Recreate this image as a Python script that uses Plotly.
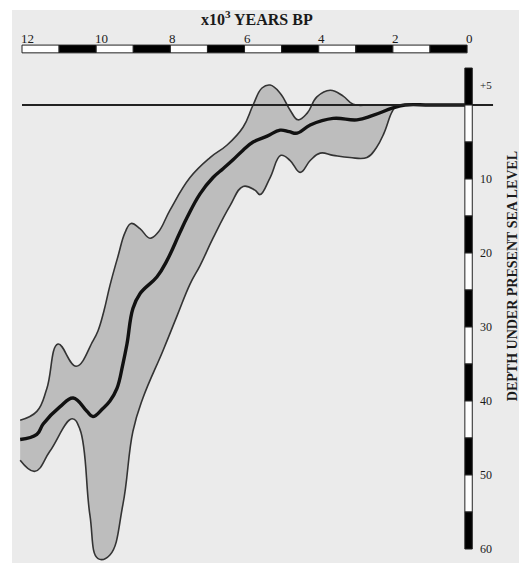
import plotly.graph_objects as go

# ---- data (x in thousands of years BP, depth in m below present sea level) ----
mean_years = [12.05, 11.6, 11.43, 10.98, 10.62, 10.25, 10.09, 9.82, 9.63, 9.44, 9.28, 9.17,
              9.01, 8.82, 8.36, 8.09, 7.74, 7.55, 7.2, 6.85, 6.58, 6.31, 6.04, 5.77, 5.39,
              5.04, 4.8, 4.58, 4.23, 3.61, 2.97, 2.54, 2.0, 1.67, 1.0, 0.0]
mean_depth = [45.2, 44.5, 43.1, 40.8, 39.6, 41.4, 42.1, 41.0, 40.0, 38.3, 35.0, 32.3,
              27.5, 25.5, 23.2, 21.0, 17.2, 15.2, 12.0, 9.8, 8.6, 7.4, 6.1, 5.0, 4.2,
              3.4, 3.6, 3.8, 2.7, 1.8, 2.0, 1.4, 0.4, 0.0, 0.0, 0.0]

upper_years = [12.05, 11.6, 11.33, 11.03, 10.54, 10.09, 9.95, 9.79, 9.63, 9.41, 9.22, 9.06,
               8.82, 8.55, 8.33, 8.01, 7.47, 6.93, 6.47, 6.04, 5.77, 5.53, 5.31, 5.04,
               4.77, 4.56, 4.31, 4.05, 3.69, 3.34, 3.07, 2.6, 1.5, 0.0]
upper_depth = [42.6, 41.4, 38.3, 32.3, 35.3, 31.9, 30.5, 27.8, 24.4, 20.4, 17.2, 16.0,
               16.7, 18.0, 17.2, 14.2, 9.8, 7.1, 5.4, 3.0, 0.0, -2.3, -2.7, -1.6,
               0.7, 2.0, 1.1, -1.1, -2.0, -1.2, -0.1, 0.0, 0.0, 0.0]

lower_years = [12.05, 11.65, 11.25, 10.65, 10.44, 10.17, 9.95, 9.63, 9.28, 9.01, 8.74, 8.2,
               7.82, 7.47, 7.2, 6.85, 6.39, 6.04, 5.72, 5.58, 5.31, 5.02, 4.77, 4.5,
               4.23, 3.96, 3.61, 3.16, 2.7, 2.45, 2.24, 2.02, 1.89, 1.0, 0.0]
lower_depth = [48.0, 49.5, 46.8, 42.4, 43.8, 55.4, 61.3, 60.8, 54.0, 44.1, 39.6, 33.2,
               28.5, 24.2, 21.7, 18.0, 13.6, 11.0, 11.5, 12.1, 9.8, 6.8, 7.5, 9.1,
               7.5, 6.5, 6.8, 7.1, 7.1, 5.8, 3.8, 0.9, 0.1, 0.0, 0.0]

year_ticks = [12, 10, 8, 6, 4, 2, 0]
year_labels = ["12", "10", "8", "6", "4", "2", "0"]
depth_ticks = [10, 20, 30, 40, 50, 60]
depth_labels = ["10", "20", "30", "40", "50", "60"]

BG = "#ebebeb"
BAND = "#bdbdbd"
INK = "#1a1a1a"
FONT = "Liberation Serif"
SMOOTH = 1.2

fig = go.Figure()
# band fill
fig.add_trace(go.Scatter(x=upper_years, y=upper_depth, mode="lines",
                         line=dict(width=0, shape="spline", smoothing=SMOOTH),
                         hoverinfo="skip", showlegend=False))
fig.add_trace(go.Scatter(x=lower_years, y=lower_depth, mode="lines", fill="tonexty",
                         fillcolor=BAND, line=dict(width=0, shape="spline", smoothing=SMOOTH),
                         hoverinfo="skip", showlegend=False))
# band outlines
for xs, ys in [(upper_years, upper_depth), (lower_years, lower_depth)]:
    fig.add_trace(go.Scatter(x=xs, y=ys, mode="lines",
                             line=dict(width=1.6, color="#333333", shape="spline", smoothing=SMOOTH),
                             hoverinfo="skip", showlegend=False))
# mean curve
fig.add_trace(go.Scatter(x=mean_years, y=mean_depth, mode="lines",
                         line=dict(width=3.4, color="#111111", shape="spline", smoothing=SMOOTH),
                         hoverinfo="skip", showlegend=False))

shapes = []
# white page strips at the left and top edges (outside the grey panel)
shapes.append(dict(type="rect", xref="paper", yref="paper", x0=-0.03, x1=0, y0=0, y1=1.03,
                   fillcolor="white", line=dict(width=0), layer="below"))
shapes.append(dict(type="rect", xref="paper", yref="paper", x0=-0.03, x1=1.0, y0=1.0, y1=1.03,
                   fillcolor="white", line=dict(width=0), layer="below"))
# present sea level line
shapes.append(dict(type="line", xref="x", yref="y", x0=12, x1=-0.7, y0=0, y1=0,
                   line=dict(color="#222222", width=2.2), layer="above"))
# top time scale bar (alternating 1 kyr segments)
for i in range(12):
    xa, xb = 12 - i, 11 - i
    black = (i % 2 == 1)
    shapes.append(dict(type="rect", xref="x", yref="y", x0=xa, x1=xb, y0=-8.1, y1=-7.05,
                       fillcolor="black" if black else "white",
                       line=dict(color="#222222", width=1), layer="above"))
# right depth scale bar (alternating 5 m segments, from +5 to 60)
for i in range(13):
    ya, yb = -5 + 5 * i, 5 * i
    black = (i % 2 == 0)
    shapes.append(dict(type="rect", xref="x", yref="y", x0=0.06, x1=-0.14, y0=ya, y1=yb,
                       fillcolor="black" if black else "white",
                       line=dict(color="#222222", width=1), layer="above"))

annotations = []
for v, t in zip(year_ticks, year_labels):
    annotations.append(dict(x=v, y=-9.05, xref="x", yref="y", text=t, showarrow=False,
                            xanchor="left", yanchor="middle", xshift=-3,
                            font=dict(family=FONT, size=13, color=INK)))
for v, t in zip(depth_ticks, depth_labels):
    annotations.append(dict(x=-0.3, y=v, xref="x", yref="y", text=t, showarrow=False,
                            xanchor="left", yanchor="middle",
                            font=dict(family=FONT, size=12, color=INK)))
annotations.append(dict(x=-0.3, y=-2.7, xref="x", yref="y", text="+5", showarrow=False,
                        xanchor="left", yanchor="middle",
                        font=dict(family=FONT, size=11, color=INK)))
annotations.append(dict(x=5.66, y=-11.8, xref="x", yref="y", text="<b>x10<sup>3</sup> YEARS BP</b>",
                        showarrow=False, xanchor="center", yanchor="middle",
                        font=dict(family=FONT, size=16, color=INK)))
annotations.append(dict(x=1.0, y=23.2, xref="paper", yref="y",
                        text="<b>DEPTH UNDER PRESENT SEA LEVEL</b>", textangle=-90,
                        showarrow=False, xanchor="right", yanchor="middle", borderpad=0,
                        xshift=2, font=dict(family=FONT, size=14, color=INK)))

fig.update_layout(
    width=519, height=563,
    margin=dict(l=12, r=0, t=10, b=0),
    paper_bgcolor=BG, plot_bgcolor=BG,
    shapes=shapes, annotations=annotations,
    xaxis=dict(range=[12.27, -1.4], showgrid=False, zeroline=False,
               showticklabels=False, ticks="", showline=False, fixedrange=True),
    yaxis=dict(range=[61.89, -12.84], showgrid=False, zeroline=False,
               showticklabels=False, ticks="", showline=False, fixedrange=True),
    showlegend=False,
)

# remove the default page-body margin so the figure fills the window exactly,
# and give any uncovered page area the panel grey
fig.write_html("out.html", config={"displayModeBar": False},
               post_script=("document.body.style.margin='0px';"
                            "document.body.style.background='#ebebeb';"
                            "document.documentElement.style.background='#ebebeb';"))
